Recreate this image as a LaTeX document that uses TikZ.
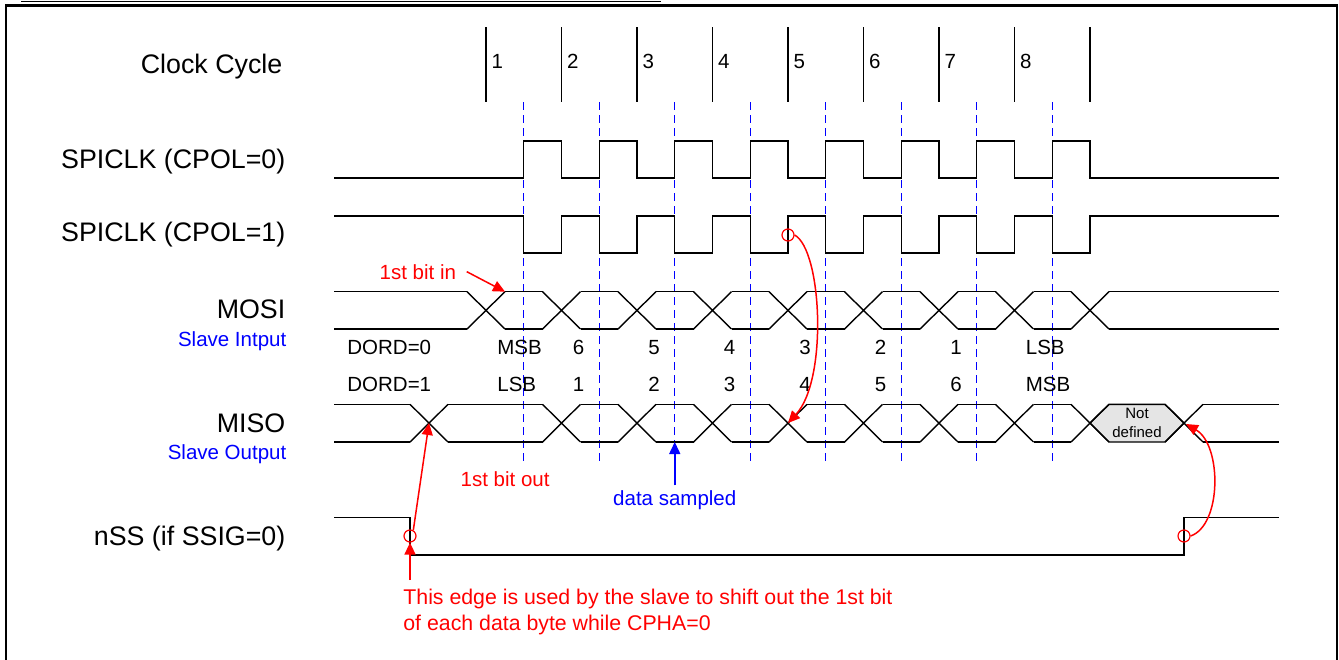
\documentclass[tikz,border=0pt]{standalone}
\usepackage{fontspec}
\setmainfont{Liberation Sans}
\usetikzlibrary{arrows.meta, positioning}

\begin{document}
\begin{tikzpicture}[
    x=1pt, y=-1pt, line width=1.4pt,
    lbl/.style={anchor=base east, inner sep=0pt, font=\fontsize{26.8}{30}\selectfont},
    sub/.style={anchor=base east, inner sep=0pt, text=blue, font=\fontsize{20.5}{24}\selectfont},
    small/.style={anchor=base west, inner sep=0pt, font=\fontsize{20.5}{24}\selectfont},
    note/.style={small, text=red},
    sig/.style={line width=1.4pt, black},
    grid/.style={blue, line width=1.2pt, dash pattern=on 8pt off 5pt},
    ring/.style={circle, draw=red, line width=1.2pt, minimum size=12pt, inner sep=0pt},
    redarr/.style={red, line width=1.5pt, -{Triangle[length=12pt,width=11pt]}},
    bluearr/.style={blue, line width=1.5pt, -{Triangle[length=12pt,width=11pt]}},
    >=Latex]
\useasboundingbox (0,0) rectangle (1339,659);
\draw[line width=1.5pt] (21,1.5) -- (661,1.5);
\draw[line width=2.2pt] (6.2,670) -- (6.2,5.5) -- (1337,5.5) -- (1337,670);

\node[lbl] (clk) at (283,73.3) {Clock Cycle};
\node[lbl] (cpol0) at (286,168.3) {SPICLK (CPOL=0)};
\node[lbl] (cpol1) at (286,241.7) {SPICLK (CPOL=1)};
\node[lbl] (mosi) at (286,318.3) {MOSI};
\node[sub] (sin) at (287,346) {Slave Intput};
\node[lbl] (miso) at (286,432.3) {MISO};
\node[sub] (sout) at (287,459) {Slave Output};
\node[lbl] (nss) at (286,545.7) {nSS (if SSIG=0)};

\foreach \k in {0,...,8}
    \draw[sig] ({486+75.5*\k},27) -- ++(0,75);
\foreach \k in {1,...,8}
    \node[small] (n\k) at ({491+75.5*(\k-1)},68.3) {\k};
\foreach \k in {0,...,7}
    \draw[grid] ({523.75+75.5*\k},102) -- ++(0,361);

\draw[sig] (334,178) \foreach \k in {0,...,7} {
    -- ({523.75+75.5*\k},178) -- ++(0,-37) -- ++(37.75,0) -- ++(0,37)} -- (1279,178);
\draw[sig] (334,216) \foreach \k in {0,...,7} {
    -- ({523.75+75.5*\k},216) -- ++(0,37) -- ++(37.75,0) -- ++(0,-37)} -- (1279,216);

\draw[sig] (334,291.7) -- (467,291.7) (334,329) -- (467,329);
\draw[sig] (1109,291.7) -- (1279,291.7) (1109,329) -- (1279,329);
\foreach \k in {0,...,8}
    \draw[sig] ({467+75.5*\k},291.7) -- ++(38,37.3) ({467+75.5*\k},329) -- ++(38,-37.3);
\foreach \k in {0,...,7}
    \draw[sig] ({505+75.5*\k},291.7) -- ++(37.5,0) ({505+75.5*\k},329) -- ++(37.5,0);

\draw[sig, fill=gray!20] (1090,423) -- (1109,404.3) -- (1165,404.3) -- (1184,423)
    -- (1165,442) -- (1109,442) -- cycle;
\draw[sig] (334,404.3) -- (410,404.3) (334,442) -- (410,442);
\draw[sig] (448,404.3) -- (542.5,404.3) (448,442) -- (542.5,442);
\draw[sig] (1203,404.3) -- (1279,404.3) (1203,442) -- (1279,442);
\foreach \c in {429,561.5,637,712.5,788,863.5,939,1014.5,1090,1184}
    \draw[sig] (\c-19,404.3) -- (\c+19,442) (\c-19,442) -- (\c+19,404.3);
\foreach \k in {1,...,7}
    \draw[sig] ({580.5+75.5*(\k-1)},404.3) -- ++(37.5,0) ({580.5+75.5*(\k-1)},442) -- ++(37.5,0);
\node[font=\fontsize{15}{19.4}\selectfont, align=center, inner sep=0pt] (nd) at (1137,423) {Not\\defined};

\draw[sig] (334,517.3) -- (410,517.3) -- (410,555) -- (1184,555) -- (1184,517.3) -- (1279,517.3);

\node[small] (d0) at (346.7,354.3) {DORD=0};
\node[small] (d1) at (346.7,391.7) {DORD=1};
\foreach \t [count=\k from 0] in {MSB,6,5,4,3,2,1,LSB}
    \node[small] (a\k) at ({496.7+75.5*\k},354.3) {\t};
\foreach \t [count=\k from 0] in {LSB,1,2,3,4,5,6,MSB}
    \node[small] (b\k) at ({496.7+75.5*\k},391.7) {\t};

\node[note] (bin) at (379,279) {1st bit in};
\node[note] (bout) at (460,486) {1st bit out};
\node[small, anchor=base, text=blue] (samp) at (674.75,505) {data sampled};
\node[note, align=left, font=\fontsize{21.3}{25.7}\selectfont] (edgetxt) at (402.7,630)
    {This edge is used by the slave to shift out the 1st bit\\of each data byte while CPHA=0};

\node[ring] (r0) at (410,536) {};
\node[ring] (r5) at (788,235) {};
\node[ring] (r8) at (1184,536) {};
\coordinate (mosi0) at (505,291.7);
\coordinate (miso0) at (429,423);
\coordinate (miso2) at (674.75,442);
\coordinate (miso5) at (788,423);
\coordinate (miso8) at (1186,424);
\coordinate (edge) at (410,580);

\draw[redarr] ([xshift=10pt]bin.east) -- (mosi0);
\draw[redarr] (r0.60) -- (miso0);
\draw[redarr] (edge) -- (r0.south);
\draw[redarr] (r5.east) .. controls (822,250) and (828,380) .. (miso5);
\draw[redarr] (r8.east) .. controls (1222,525) and (1222,445) .. (miso8);
\draw[bluearr] ([yshift=4pt]samp.north) -- (miso2);
\end{tikzpicture}
\end{document}
